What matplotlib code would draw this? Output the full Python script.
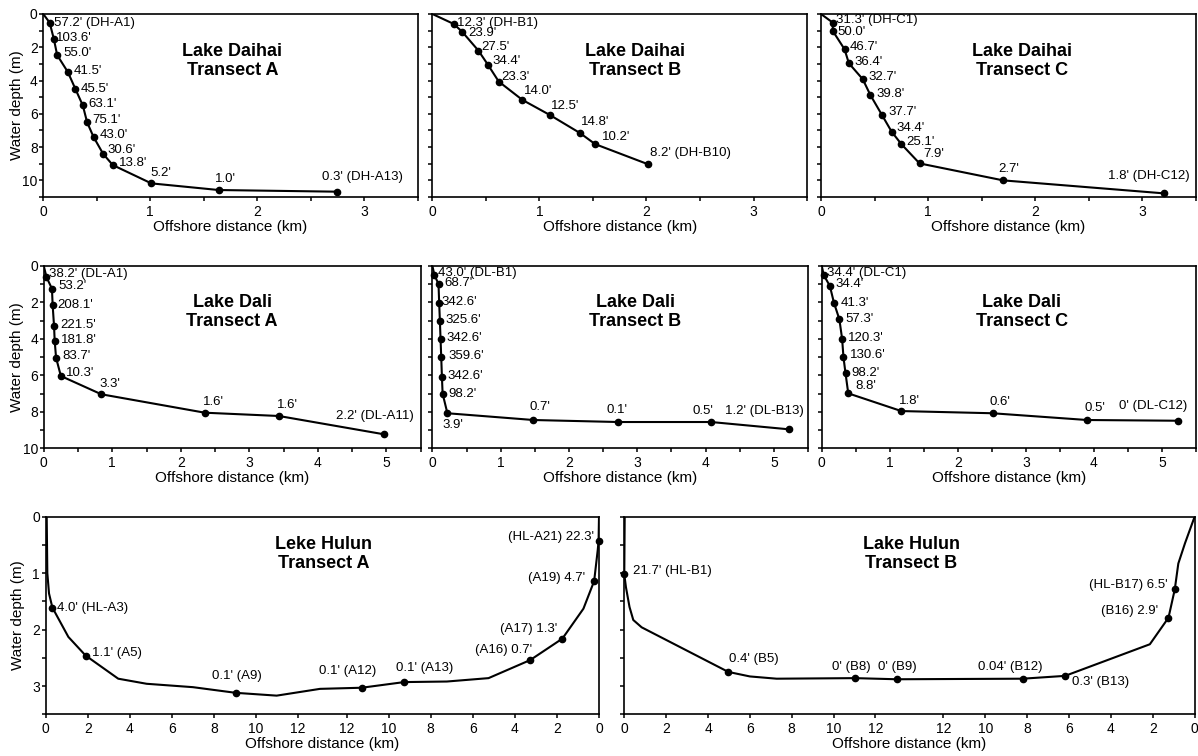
import matplotlib
matplotlib.use('Agg')
import matplotlib.pyplot as plt
from matplotlib.ticker import MultipleLocator, FixedLocator, FixedFormatter

plt.rcParams['font.family'] = ['Liberation Sans', 'DejaVu Sans']

# ---- Lake Daihai (offshore distance km, water depth m, sample labels) ----
dha_x = [0.06, 0.10, 0.13, 0.23, 0.30, 0.37, 0.41, 0.47, 0.56, 0.65, 1.01, 1.64, 2.75]
dha_d = [0.52, 1.53, 2.47, 3.49, 4.50, 5.50, 6.51, 7.39, 8.41, 9.08, 10.18, 10.58, 10.68]
dha_lab = ["57.2' (DH-A1)", "103.6'", "55.0'", "41.5'", "45.5'", "63.1'", "75.1'",
           "43.0'", "30.6'", "13.8'", "5.2'", "1.0'", "0.3' (DH-A13)"]

dhb_x = [0.20, 0.28, 0.43, 0.52, 0.62, 0.84, 1.10, 1.38, 1.52, 2.01]
dhb_d = [0.60, 1.08, 2.20, 3.06, 4.06, 5.16, 6.08, 7.16, 7.82, 9.02]
dhb_lab = ["12.3' (DH-B1)", "23.9'", "27.5'", "34.4'", "23.3'", "14.0'", "12.5'",
           "14.8'", "10.2'", "8.2' (DH-B10)"]

dhc_x = [0.11, 0.11, 0.22, 0.26, 0.39, 0.46, 0.57, 0.66, 0.75, 0.92, 1.70, 3.20]
dhc_d = [0.52, 1.02, 2.12, 2.96, 3.92, 4.86, 6.08, 7.08, 7.82, 8.98, 10.00, 10.78]
dhc_lab = ["31.3' (DH-C1)", "50.0'", "46.7'", "36.4'", "32.7'", "39.8'", "37.7'",
           "34.4'", "25.1'", "7.9'", "2.7'", "1.8' (DH-C12)"]

# ---- Lake Dali ----
dla_x = [0.04, 0.12, 0.13, 0.15, 0.16, 0.18, 0.25, 0.84, 2.35, 3.43, 4.96]
dla_d = [0.62, 1.26, 2.15, 3.28, 4.12, 5.04, 6.04, 7.04, 8.05, 8.23, 9.23]
dla_lab = ["38.2' (DL-A1)", "53.2'", "208.1'", "221.5'", "181.8'", "83.7'", "10.3'",
           "3.3'", "1.6'", "1.6'", "2.2' (DL-A11)"]

dlb_x = [0.03, 0.09, 0.10, 0.11, 0.12, 0.13, 0.14, 0.15, 0.22, 1.48, 2.72, 4.08, 5.22]
dlb_d = [0.51, 1.00, 2.06, 3.01, 4.03, 5.02, 6.09, 7.00, 8.08, 8.45, 8.56, 8.56, 8.96]
dlb_lab = ["43.0' (DL-B1)", "68.7'", "342.6'", "325.6'", "342.6'", "359.6'", "342.6'",
           "98.2'", "3.9'", "0.7'", "0.1'", "0.5'", "1.2' (DL-B13)"]

dlc_x = [0.03, 0.12, 0.18, 0.26, 0.30, 0.32, 0.35, 0.39, 1.17, 2.51, 3.90, 5.24]
dlc_d = [0.51, 1.11, 2.03, 2.94, 4.01, 5.02, 5.89, 6.99, 7.96, 8.08, 8.45, 8.49]
dlc_lab = ["34.4' (DL-C1)", "34.4'", "41.3'", "57.3'", "120.3'", "130.6'", "98.2'",
           "8.8'", "1.8'", "0.6'", "0.5'", "0' (DL-C12)"]

# ---- Lake Hulun (distance along transect from the left shore, km) ----
hla_width = 26.3
hla_prof_x = [0.05, 0.08, 0.16, 0.32, 1.08, 1.90, 3.45, 4.80, 7.00, 9.03, 10.98,
              13.04, 15.02, 17.04, 19.07, 21.05, 23.03, 24.56, 25.56, 26.07, 26.24, 26.28, 26.30]
hla_prof_d = [0.00, 1.00, 1.36, 1.61, 2.13, 2.46, 2.87, 2.96, 3.02, 3.12, 3.17,
              3.05, 3.03, 2.93, 2.92, 2.86, 2.54, 2.16, 1.63, 1.14, 0.59, 0.43, 0.00]
hla_x = [0.32, 1.90, 9.03, 15.02, 17.04, 23.03, 24.56, 26.07, 26.28]
hla_d = [1.61, 2.46, 3.12, 3.03, 2.93, 2.54, 2.16, 1.14, 0.43]
hla_lab = ["4.0' (HL-A3)", "1.1' (A5)", "0.1' (A9)", "0.1' (A12)", "0.1' (A13)",
           "(A16) 0.7'", "(A17) 1.3'", "(A19) 4.7'", "(HL-A21) 22.3'"]

hlb_width = 27.25
hlb_prof_x = [0.02, 0.00, 0.08, 0.25, 0.43, 0.83, 4.97, 6.00, 7.28, 11.02, 13.01,
              19.03, 21.06, 25.11, 26.00, 26.30, 26.47, 26.79, 27.25]
hlb_prof_d = [0.00, 1.02, 1.25, 1.60, 1.83, 1.96, 2.75, 2.83, 2.87, 2.86, 2.88,
              2.87, 2.82, 2.26, 1.79, 1.29, 0.83, 0.47, 0.00]
hlb_x = [0.00, 4.97, 11.02, 13.01, 19.03, 21.06, 26.00, 26.30]
hlb_d = [1.02, 2.75, 2.86, 2.88, 2.87, 2.82, 1.79, 1.29]
hlb_lab = ["21.7' (HL-B1)", "0.4' (B5)", "0' (B8)", "0' (B9)", "0.04' (B12)",
           "0.3' (B13)", "(B16) 2.9'", "(HL-B17) 6.5'"]

hulun_ticks = [0, 2, 4, 6, 8, 10, 12]

# label placement: (dx px, dy px, ha)
L = 'left'
R = 'right'
C = 'center'
dha_off = [(4, 0, L), (2, 1, L), (6, 2, L), (6, 1, L), (5, 0, L), (6, 1, L), (5, 2, L),
           (6, 2, L), (4, 4, L), (6, 2, L), (-1, 10, L), (-4, 11, L), (-15, 15, L)]
dhb_off = [(3, 1, L), (6, -1, L), (3, 4, L), (4, 4, L), (3, 5, L), (2, 9, L), (1, 9, L),
           (1, 11, L), (7, 7, L), (2, 11, L)]
dhc_off = [(3, 3, L), (5, -1, L), (5, 2, L), (6, 1, L), (6, 2, L), (6, 1, L), (6, 3, L),
           (5, 4, L), (5, 2, L), (4, 9, L), (-5, 11, L), (26, 17, R)]
dla_off = [(3, 3, L), (6, 3, L), (5, 0, L), (6, 1, L), (6, 1, L), (6, 2, L), (5, 3, L),
           (-2, 10, L), (-2, 11, L), (-2, 11, L), (-48, 18, L)]
dlb_off = [(4, 2, L), (6, 1, L), (2, 1, L), (6, 1, L), (6, 1, L), (7, 1, L), (6, 1, L),
           (6, 0, L), (-5, -12, L), (-4, 13, L), (-12, 12, L), (-19, 11, L), (-64, 18, L)]
dlc_off = [(3, 2, L), (6, 2, L), (7, 0, L), (6, 0, L), (6, 1, L), (6, 2, L), (6, 0, L),
           (7, 7, L), (-2, 10, L), (-3, 11, L), (-3, 12, L), (9, 15, R)]
hla_off = [(5, 0, L), (6, 3, L), (1, 17, C), (-14, 17, C), (20, 14, C), (2, 10, R),
           (-5, 10, R), (-9, 3, R), (-5, 4, R)]
hlb_off = [(9, 3, L), (1, 13, L), (-4, 11, C), (-19, 12, L), (-12, 12, C), (7, -6, L),
           (-10, 7, R), (-7, 4, R)]

fig = plt.figure(figsize=(11.98, 7.56), dpi=100)


def style(ax):
    for s in ax.spines.values():
        s.set_linewidth(1.2)
    ax.tick_params(which='both', direction='out', length=3, width=1.1,
                   labelsize=10, colors='black')
    ax.tick_params(axis='x', pad=2.5)
    ax.tick_params(axis='y', pad=1)


def draw(ax, px, pd, sx, sd, labels, offs):
    ax.plot(px, pd, color='black', lw=1.5, solid_joinstyle='round')
    ax.plot(sx, sd, 'o', color='black', ms=4.5, clip_on=False, zorder=3)
    for x, d, t, (dx, dy, ha) in zip(sx, sd, labels, offs):
        ax.annotate(t, (x, d), xytext=(dx, dy), textcoords='offset pixels',
                    ha=ha, va='center', fontsize=9.5)


def title(ax, txt, x, y):
    ax.text(x, y, txt, transform=ax.transAxes, ha='center', va='center',
            fontsize=13, fontweight='bold', linespacing=1.15)


# ---- top and middle rows ----
small = [
    ([0.0361, 0.7394, 0.3126, 0.2421], dha_x, dha_d, dha_lab, dha_off, "Lake Daihai\nTransect A", 0.505, 11, 3.5, True),
    ([0.3609, 0.7394, 0.3128, 0.2421], dhb_x, dhb_d, dhb_lab, dhb_off, "Lake Daihai\nTransect B", 0.54, 11, 3.5, False),
    ([0.6853, 0.7394, 0.3130, 0.2421], dhc_x, dhc_d, dhc_lab, dhc_off, "Lake Daihai\nTransect C", 0.535, 11, 3.5, False),
    ([0.0365, 0.4070, 0.3147, 0.2415], dla_x, dla_d, dla_lab, dla_off, "Lake Dali\nTransect A", 0.50, 10, 5.5, True),
    ([0.3609, 0.4070, 0.3136, 0.2415], dlb_x, dlb_d, dlb_lab, dlb_off, "Lake Dali\nTransect B", 0.54, 10, 5.5, False),
    ([0.6859, 0.4070, 0.3124, 0.2415], dlc_x, dlc_d, dlc_lab, dlc_off, "Lake Dali\nTransect C", 0.535, 10, 5.5, False),
]

for rect, sx, sd, lab, offs, ttl, tx, ymax, xmax, first in small:
    ax = fig.add_axes(rect)
    draw(ax, [0] + sx, [0] + sd, sx, sd, lab, offs)
    ax.set_xlim(0, xmax)
    ax.set_ylim(ymax, 0)
    ax.xaxis.set_major_locator(MultipleLocator(1))
    ax.xaxis.set_minor_locator(MultipleLocator(0.5))
    ax.set_xlabel('Offshore distance (km)', fontsize=11, labelpad=1)
    if first:
        ax.yaxis.set_major_locator(MultipleLocator(2))
        ax.yaxis.set_minor_locator(MultipleLocator(1))
        ax.set_ylabel('Water depth (m)', fontsize=11, labelpad=-1)
    else:
        ax.yaxis.set_major_locator(MultipleLocator(1))
        ax.tick_params(axis='y', labelleft=False)
    style(ax)
    title(ax, ttl, tx, 0.745)

# ---- bottom row: Lake Hulun ----
big = [
    ([0.0381, 0.0552, 0.4619, 0.2614], hla_width, hla_prof_x, hla_prof_d, hla_x, hla_d, hla_lab, hla_off, "Leke Hulun\nTransect A", True),
    ([0.5211, 0.0552, 0.4761, 0.2614], hlb_width, hlb_prof_x, hlb_prof_d, hlb_x, hlb_d, hlb_lab, hlb_off, "Lake Hulun\nTransect B", False),
]

for rect, width, px, pd, sx, sd, lab, offs, ttl, first in big:
    ax = fig.add_axes(rect)
    draw(ax, px, pd, sx, sd, lab, offs)
    ax.set_xlim(0, width)
    ax.set_ylim(3.5, 0)
    pos = hulun_ticks + [width - v for v in hulun_ticks[::-1]]
    txt = [str(v) for v in hulun_ticks] + [str(v) for v in hulun_ticks[::-1]]
    ax.xaxis.set_major_locator(FixedLocator(pos))
    ax.xaxis.set_major_formatter(FixedFormatter(txt))
    ax.set_xlabel('Offshore distance (km)', fontsize=11, labelpad=1)
    ax.yaxis.set_major_locator(MultipleLocator(1))
    ax.yaxis.set_minor_locator(MultipleLocator(0.5))
    if first:
        ax.set_ylabel('Water depth (m)', fontsize=11, labelpad=5)
    else:
        ax.tick_params(axis='y', labelleft=False)
    style(ax)
    title(ax, ttl, 0.503, 0.81)

fig.savefig('out.png', dpi=100)
